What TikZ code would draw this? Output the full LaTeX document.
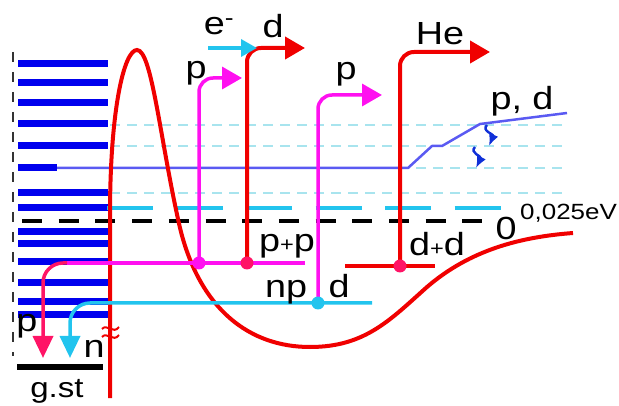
\documentclass[tikz,border=0pt]{standalone}
\usepackage{fontspec}
\setmainfont{Liberation Sans}[FakeStretch=1.18]
\usetikzlibrary{arrows.meta}
\definecolor{barblue}{HTML}{0000EE}
\definecolor{levelblue}{HTML}{5A5AF2}
\definecolor{wellred}{HTML}{F00000}
\definecolor{protonmag}{HTML}{FF10F0}
\definecolor{protonpink}{HTML}{FF1466}
\definecolor{neutroncyan}{HTML}{22C4EE}
\definecolor{palecyan}{HTML}{A8E4EE}
\definecolor{squigblue}{HTML}{1030D8}
\tikzset{
  lbl/.style={font=\fontsize{32}{34}\selectfont,inner sep=0pt,anchor=base},
  smalllbl/.style={font=\fontsize{22}{24}\selectfont,inner sep=0pt,anchor=base west},
  bar/.style={draw=barblue,line width=7pt},
  paledash/.style={draw=palecyan,line width=2pt,dash pattern=on 10pt off 7pt},
  zerodash/.style={draw=black,line width=4.5pt,dash pattern=on 20pt off 16.7pt},
  cyandash/.style={draw=neutroncyan,line width=3.5pt,dash pattern=on 46pt off 23.5pt},
  wall/.style={draw=black!80,line width=2.5pt,dash pattern=on 10pt off 10pt},
  barrier/.style={draw=wellred,line width=4pt},
  levelline/.style={draw=levelblue,line width=2.5pt,line join=round},
  redline/.style={draw=wellred,line width=4pt,rounded corners=14pt},
  magline/.style={draw=protonmag,line width=3.5pt,rounded corners=14pt},
  pinkline/.style={draw=protonpink,line width=3.5pt,rounded corners=20pt},
  cyanline/.style={draw=neutroncyan,line width=3.5pt,rounded corners=20pt},
  ground/.style={draw=black,line width=6pt},
  squig/.style={draw=squigblue,line width=2.4pt,-{Latex[length=12pt,width=10pt]}},
  breakmark/.style={draw=wellred,line width=2pt},
  bigtip/.style={-{Triangle[length=20pt,width=22pt]}},
  dot/.style={circle,inner sep=0pt,minimum size=13pt}
}

\begin{document}
\begin{tikzpicture}[x=1pt,y=-1pt]
  \useasboundingbox (0,0) rectangle (619,406);

  % levels of the well
  \foreach \y in {125,146,168,193}
    \draw[paledash] (110,\y) -- (568,\y);
  \draw[wall] (13,52) -- (13,356);
  \foreach \y in {64,83,103,124,146,193,208,232,244,262,283,302,315}
    \draw[bar] (18,\y) -- (108,\y);
  \draw[bar] (18,168) -- (57,168);
  \draw[levelline] (57,168) -- (408,168) -- (432,146) -- (442,146) -- (480,124) -- (567,113);
  \draw[cyandash] (107,208) -- (502,208);
  \draw[zerodash] (22,221) -- (497,221);

  % barrier
  \draw[barrier] (110,398) -- (110,215)
    .. controls (110,110) and (124,50) .. (137,50)
    .. controls (152,50) and (160,140) .. (180,228)
    .. controls (200,310) and (250,347) .. (310,347)
    .. controls (365,347) and (390,320) .. (427,287)
    .. controls (470,250) and (520,237) .. (573,233);
  \draw[breakmark] (102,329) .. controls (107,323) and (113,335) .. (119,327);
  \draw[breakmark] (102,337) .. controls (107,331) and (113,343) .. (119,335);

  % points
  \coordinate (ppc) at (199,263);
  \coordinate (dc) at (247,263);
  \coordinate (npc) at (318,303);
  \coordinate (hec) at (400,266);
  \coordinate (ptipa) at (242,78);
  \coordinate (dtip) at (305,48);
  \coordinate (ptipb) at (382,95);
  \coordinate (hetip) at (490,52);
  \coordinate (etail) at (208,48);
  \coordinate (etip) at (257,48);
  \coordinate (ppleft) at (67,263);
  \coordinate (ppright) at (305,263);
  \coordinate (npright) at (372,303);
  \coordinate (ddleft) at (345,266);
  \coordinate (ddright) at (435,266);
  \coordinate (pgtip) at (43,358);
  \coordinate (ngtip) at (70,358);
  \coordinate (gsleft) at (17,367);
  \coordinate (gsright) at (103,367);

  % reactions
  \draw[magline] (ppleft) -- (ppright);
  \draw[pinkline,-{Triangle[length=22pt,width=20pt]}] (ppleft) -| (pgtip);
  \draw[cyanline,-{Triangle[length=22pt,width=20pt]}] (npright) -- (npc) -| (ngtip);
  \draw[redline] (ddleft) -- (ddright);
  \draw[magline,bigtip] (ppc) |- (ptipa);
  \draw[redline,bigtip] (dc) |- (dtip);
  \draw[magline,bigtip] (npc) |- (ptipb);
  \draw[redline,bigtip] (hec) |- (hetip);
  \draw[draw=neutroncyan,line width=3.5pt,-{Triangle[length=16pt,width=17pt]}] (etail) -- (etip);
  \draw[ground] (gsleft) -- (gsright);
  \draw[squig] (487,125) .. controls (481,131) and (494,134) .. (489,146);
  \draw[squig] (475,147) .. controls (469,153) and (482,156) .. (476,168);

  \node[dot,fill=protonmag] (ppdot) at (ppc) {};
  \node[dot,fill=protonpink] (ddot) at (dc) {};
  \node[dot,fill=neutroncyan] (npdot) at (npc) {};
  \node[dot,fill=protonpink] (hedot) at (hec) {};

  % labels
  \node[lbl] (elbl) at (219,35) {e\textsuperscript{-}};
  \node[lbl] (dlbl) at (273,38) {d};
  \node[lbl] (plbla) at (196,79) {p};
  \node[lbl] (plblb) at (346,80) {p};
  \node[lbl] (helbl) at (440,45) {He};
  \node[lbl] (pdlbl) at (522,110) {p, d};
  \node[lbl] (zerolbl) at (506,240) {0};
  \node[smalllbl] (evlbl) at (520,220) {0,025eV};
  \node[lbl,anchor=base west] (pplbl) at (259,252) {p{\fontsize{20}{20}\selectfont+}p};
  \node[lbl] (ddlbl) at (437,256) {d{\fontsize{20}{20}\selectfont+}d};
  \node[lbl,anchor=base west] (nplbl) at (265,298) {np};
  \node[lbl] (npdlbl) at (339,298) {d};
  \node[lbl] (pglbl) at (27,332) {p};
  \node[lbl] (nglbl) at (94,357) {n};
  \node[lbl,font=\fontsize{28}{30}\selectfont] (gslbl) at (57,397) {g.st};
\end{tikzpicture}
\end{document}
